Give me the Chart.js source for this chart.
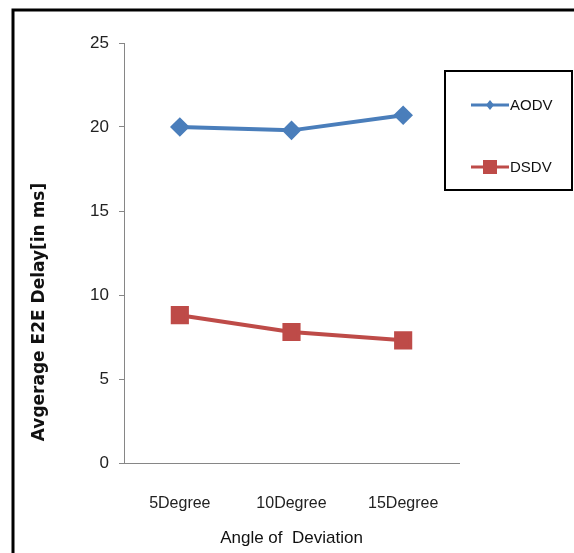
<!DOCTYPE html>
<html>
<head>
<meta charset="utf-8">
<script src="https://cdn.jsdelivr.net/npm/chart.js@4/dist/chart.umd.min.js"></script>
<style>
  html, body { margin: 0; padding: 0; background: #fff; }
  #wrap { width: 574px; height: 553px; }
</style>
</head>
<body>
<div id="wrap"><canvas id="delay" width="574" height="553"></canvas></div>
<script>
// Datos
const categories = ['5Degree', '10Degree', '15Degree'];
const aodv = [20.0, 19.8, 20.7];
const dsdv = [8.8, 7.8, 7.3];
const yTicks = [0, 5, 10, 15, 20, 25];
const yTitle = 'Avgerage E2E Delay[in ms]';

const SANS = "'Liberation Sans', Arial, sans-serif";

// Marco negro, título del eje Y (desplazado hacia abajo) y leyenda en caja
const framePlugin = {
    id: 'frame',
    afterDraw(chart) {
        const c = chart.ctx;
        c.save();
        c.strokeStyle = '#000';
        c.lineWidth = 3;
        c.beginPath();
        c.moveTo(13, 553);
        c.lineTo(13, 10);
        c.lineTo(574, 10);
        c.stroke();

        // título vertical
        c.save();
        c.translate(40, 312);
        c.rotate(-Math.PI / 2);
        c.fillStyle = '#111';
        c.font = "bold 17px 'DejaVu Sans', sans-serif";
        c.textAlign = 'center';
        c.textBaseline = 'middle';
        c.fillText(yTitle, 0, 0);
        c.restore();

        // caja de la leyenda
        c.lineWidth = 2;
        c.strokeRect(445, 71, 127, 119);

        const rows = [105, 167];
        chart.data.datasets.forEach((ds, i) => {
            const y = rows[i];
            c.strokeStyle = ds.borderColor;
            c.lineWidth = 3;
            c.beginPath();
            c.moveTo(471, y);
            c.lineTo(509, y);
            c.stroke();
            c.fillStyle = ds.backgroundColor;
            if (ds.pointStyle === 'rect') {
                c.fillRect(483, y - 7, 14, 14);
            } else {
                c.beginPath();
                c.moveTo(490, y - 5);
                c.lineTo(494, y);
                c.lineTo(490, y + 5);
                c.lineTo(486, y);
                c.closePath();
                c.fill();
            }
            c.fillStyle = '#111';
            c.font = '15px ' + SANS;
            c.textBaseline = 'middle';
            c.fillText(ds.label, 510, y + 1);
        });
        c.restore();
    }
};

new Chart(document.getElementById('delay'), {
    type: 'line',
    data: {
        labels: categories,
        datasets: [
            {
                label: 'AODV',
                data: aodv,
                borderColor: '#4a7ebb',
                backgroundColor: '#4a7ebb',
                borderWidth: 4,
                pointStyle: 'rectRot',
                pointRadius: 7,
                tension: 0
            },
            {
                label: 'DSDV',
                data: dsdv,
                borderColor: '#be4b48',
                backgroundColor: '#be4b48',
                borderWidth: 4,
                pointStyle: 'rect',
                pointRadius: 10,
                tension: 0
            }
        ]
    },
    options: {
        responsive: false,
        animation: false,
        layout: { padding: { top: 43, right: 115, left: 0, bottom: 0 } },
        plugins: {
            legend: { display: false },
            tooltip: { enabled: false }
        },
        scales: {
            x: {
                offset: true,
                afterFit: s => { s.height = 90; },
                grid: { display: false, drawTicks: false },
                border: { color: '#868686', width: 1 },
                ticks: { color: '#222', font: { family: SANS, size: 16 }, padding: 31 },
                title: {
                    display: true,
                    text: 'Angle of  Deviation',
                    color: '#111',
                    font: { family: SANS, size: 17 },
                    padding: { top: 9 }
                }
            },
            y: {
                min: 0,
                max: 25,
                afterFit: s => { s.width = 124; },
                afterBuildTicks: s => { s.ticks = yTicks.map(v => ({ value: v })); },
                grid: { drawOnChartArea: false, color: '#868686', tickLength: 5 },
                border: { color: '#868686', width: 1 },
                ticks: { color: '#222', font: { family: SANS, size: 17 }, padding: 10 }
            }
        }
    },
    plugins: [framePlugin]
});
</script>
</body>
</html>
